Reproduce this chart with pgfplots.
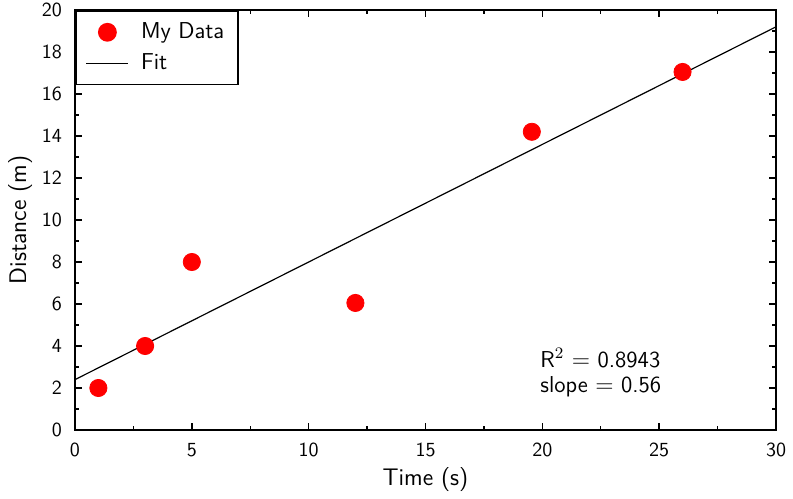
\documentclass[border=0pt]{standalone}
\usepackage{fontspec}
\usepackage{pgfplots}
\pgfplotsset{compat=1.18}
\renewcommand{\familydefault}{\sfdefault}

\pgfplotsset{
    legline/.style={legend image code/.code={
        \draw[##1, line width=0.6pt] (0pt,0pt) -- (21pt,0pt);}},
    legmark/.style={legend image code/.code={
        \draw[##1] plot coordinates {(10.5pt,0pt)};}},
}

\begin{document}
\begin{tikzpicture}
\begin{axis}[
    scale only axis,
    width=350.5pt,
    height=210pt,
    xmin=0, xmax=30,
    ymin=0, ymax=20,
    xtick={0,5,...,30},
    ytick={0,2,...,20},
    minor tick num=1,
    tick align=inside,
    major tick length=3.5pt,
    minor tick length=2pt,
    axis line style={line width=0.9pt},
    every tick/.style={line width=0.7pt,black},
    tick label style={font=\fontsize{10}{11}\selectfont},
    xticklabel style={yshift=-3pt},
    yticklabel style={xshift=-3pt},
    /pgf/number format/assume math mode=true,
    xlabel={Time (s)},
    ylabel={Distance (m)},
    label style={font=\fontsize{12}{13}\selectfont},
    xlabel style={yshift=1.5pt},
    ylabel style={yshift=-2pt},
    legend cell align=left,
    legend style={
        at={(rel axis cs:0,1)},
        anchor=north west,
        font=\fontsize{11.5}{13}\selectfont,
        draw=black,
        line width=0.8pt,
        inner xsep=5pt,
        inner ysep=4pt,
        row sep=2pt,
        /tikz/every odd column/.append style={column sep=4pt},
    },
]
\coordinate (bl) at (rel axis cs:0,0);
\coordinate (tr) at (rel axis cs:1,1);
\addplot[only marks, mark=*, mark size=4.3pt, color=red, fill=red, legmark] coordinates {
    (1,2)
    (3,4)
    (5,8)
    (12,6.05)
    (19.55,14.2)
    (26,17.05)
};
\addplot[black, line width=0.6pt, legline] coordinates {
    (0,2.4)
    (30,19.2)
};
\legend{My Data,Fit}
\node[anchor=west, align=left, font=\fontsize{11.5}{12.5}\selectfont, inner sep=0pt]
    at (axis cs:19.9,2.75) {R$^2$ $=$ 0.8943\\slope $=$ 0.56};
\end{axis}
\pgfresetboundingbox
\path ([shift={(-37.5pt,-34pt)}]bl) rectangle ([shift={(8.5pt,5pt)}]tr);
\end{tikzpicture}
\end{document}
